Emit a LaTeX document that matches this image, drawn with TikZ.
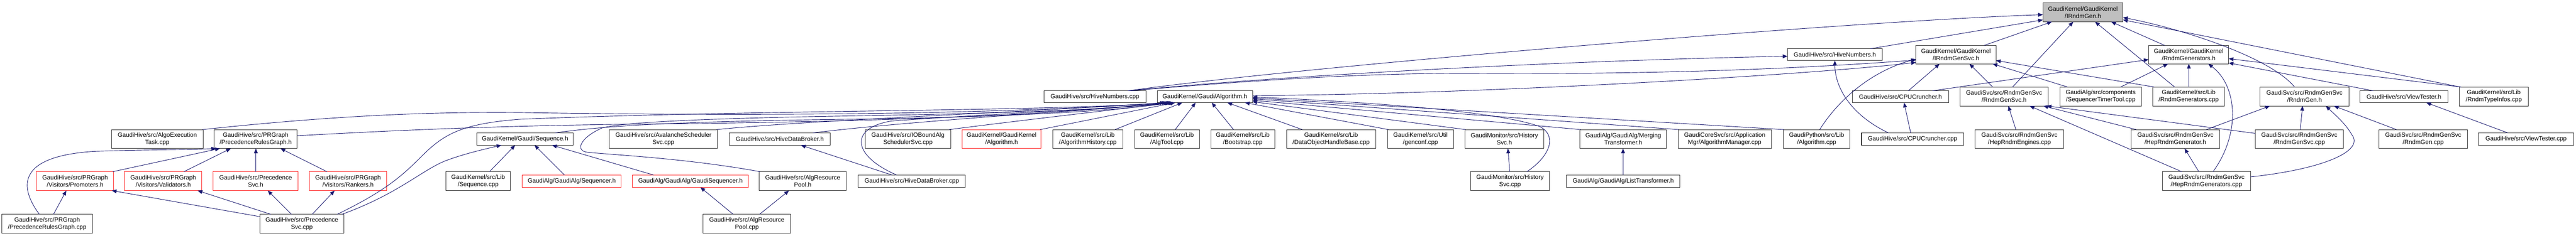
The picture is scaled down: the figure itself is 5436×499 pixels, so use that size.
\documentclass[tikz,border=0pt]{standalone}
\usepackage{fontspec}
\setmainfont{Liberation Sans}
\usetikzlibrary{arrows.meta}
\definecolor{edgeblue}{RGB}{25,25,112}
\definecolor{rootgray}{RGB}{191,191,191}
\newcommand\atB[2]{(#1.south -| #2,0)}
\newcommand\atT[2]{(#1.north -| #2,0)}
\newcommand\atL[2]{(#1.west |- 0,#2)}
\newcommand\atR[2]{(#1.east |- 0,#2)}
\newcommand\gnode[7]{\node[#1, minimum width={(#5)-(#3)}, minimum height={(#6)-(#4)}] (#2) at ({((#3)+(#5))/2},{((#4)+(#6))/2}) {#7};}
\begin{document}
\begin{tikzpicture}[x=1pt,y=-1pt,
  font=\fontsize{12.9}{15}\selectfont,
  box/.style={draw=black!80, line width=1.1pt, fill=white, rectangle, inner sep=0pt, outer sep=0pt, align=center},
  trunc/.style={box, draw=red!85!white},
  root/.style={box, fill=rootgray},
  dep/.style={draw=edgeblue, line width=1pt, -{Triangle[length=10pt,width=8pt]}}]
\fill[white] (0,0) rectangle (5436,499);
\useasboundingbox (0,0) rectangle (5436,499);
% rank 0
\gnode{root}{irg}{4311}{6}{4480}{46}{GaudiKernel/GaudiKernel\\/IRndmGen.h}
% rank 1
\gnode{box}{irgs}{4043}{96}{4212}{135}{GaudiKernel/GaudiKernel\\/IRndmGenSvc.h}
\gnode{box}{rgh}{4534}{96}{4703}{135}{GaudiKernel/GaudiKernel\\/RndmGenerators.h}
\gnode{box}{hnh}{3772}{103}{3972}{128}{GaudiHive/src/HiveNumbers.h}
% rank 2
\gnode{box}{hnc}{2203}{192}{2418}{217}{GaudiHive/src/HiveNumbers.cpp}
\gnode{box}{alg}{2442}{192}{2643}{217}{GaudiKernel/Gaudi/Algorithm.h}
\gnode{box}{cpuh}{3909}{192}{4112}{217}{GaudiHive/src/CPUCruncher.h}
\gnode{box}{rgsh}{4136}{184}{4322}{224}{GaudiSvc/src/RndmGenSvc\\/RndmGenSvc.h}
\gnode{box}{stt}{4347}{184}{4519}{224}{GaudiAlg/src/components\\/SequencerTimerTool.cpp}
\gnode{box}{rgcpp}{4543}{184}{4694}{224}{GaudiKernel/src/Lib\\/RndmGenerators.cpp}
\gnode{box}{rgenh}{4769}{184}{4957}{224}{GaudiSvc/src/RndmGenSvc\\/RndmGen.h}
\gnode{box}{vth}{4980}{192}{5166}{217}{GaudiHive/src/ViewTester.h}
\gnode{box}{rti}{5190}{184}{5335}{224}{GaudiKernel/src/Lib\\/RndmTypeInfos.cpp}
% rank 3
\gnode{box}{aet}{235}{274}{429}{314}{GaudiHive/src/AlgoExecution\\Task.cpp}
\gnode{box}{prgh}{452}{274}{627}{314}{GaudiHive/src/PRGraph\\/PrecedenceRulesGraph.h}
\gnode{box}{seqh}{1006}{281}{1210}{307}{GaudiKernel/Gaudi/Sequence.h}
\gnode{box}{ava}{1286}{274}{1514}{314}{GaudiHive/src/AvalancheScheduler\\Svc.cpp}
\gnode{box}{hdbh}{1539}{281}{1752}{307}{GaudiHive/src/HiveDataBroker.h}
\gnode{box}{iob}{1826}{274}{2006}{314}{GaudiHive/src/IOBoundAlg\\SchedulerSvc.cpp}
\gnode{trunc}{kalg}{2030}{274}{2197}{314}{GaudiKernel/GaudiKernel\\/Algorithm.h}
\gnode{box}{ahist}{2222}{274}{2369}{314}{GaudiKernel/src/Lib\\/AlgorithmHistory.cpp}
\gnode{box}{atool}{2394}{274}{2531}{314}{GaudiKernel/src/Lib\\/AlgTool.cpp}
\gnode{box}{boot}{2555}{274}{2690}{314}{GaudiKernel/src/Lib\\/Bootstrap.cpp}
\gnode{box}{dohb}{2715}{274}{2903}{314}{GaudiKernel/src/Lib\\/DataObjectHandleBase.cpp}
\gnode{box}{genc}{2928}{274}{3067}{314}{GaudiKernel/src/Util\\/genconf.cpp}
\gnode{box}{hsh}{3091}{274}{3258}{314}{GaudiMonitor/src/History\\Svc.h}
\gnode{box}{mtr}{3334}{274}{3517}{314}{GaudiAlg/GaudiAlg/Merging\\Transformer.h}
\gnode{box}{amgr}{3541}{274}{3738}{314}{GaudiCoreSvc/src/Application\\Mgr/AlgorithmManager.cpp}
\gnode{box}{pyalg}{3763}{274}{3904}{314}{GaudiPython/src/Lib\\/Algorithm.cpp}
\gnode{box}{cpuc}{3928}{281}{4144}{307}{GaudiHive/src/CPUCruncher.cpp}
\gnode{box}{hre}{4168}{274}{4355}{314}{GaudiSvc/src/RndmGenSvc\\/HepRndmEngines.cpp}
\gnode{box}{hrg}{4497}{274}{4684}{314}{GaudiSvc/src/RndmGenSvc\\/HepRndmGenerator.h}
\gnode{box}{rgsc}{4759}{274}{4945}{314}{GaudiSvc/src/RndmGenSvc\\/RndmGenSvc.cpp}
\gnode{box}{rgc}{5020}{274}{5207}{314}{GaudiSvc/src/RndmGenSvc\\/RndmGen.cpp}
\gnode{box}{vtc}{5230}{281}{5431}{307}{GaudiHive/src/ViewTester.cpp}
% rank 4
\gnode{trunc}{prom}{77}{363}{240}{403}{GaudiHive/src/PRGraph\\/Visitors/Promoters.h}
\gnode{trunc}{val}{263}{363}{426}{403}{GaudiHive/src/PRGraph\\/Visitors/Validators.h}
\gnode{trunc}{psh}{450}{363}{629}{403}{GaudiHive/src/Precedence\\Svc.h}
\gnode{trunc}{rank}{653}{363}{816}{403}{GaudiHive/src/PRGraph\\/Visitors/Rankers.h}
\gnode{box}{seqc}{941}{363}{1077}{403}{GaudiKernel/src/Lib\\/Sequence.cpp}
\gnode{trunc}{sqr}{1102}{370}{1311}{396}{GaudiAlg/GaudiAlg/Sequencer.h}
\gnode{trunc}{gsqr}{1335}{370}{1579}{396}{GaudiAlg/GaudiAlg/GaudiSequencer.h}
\gnode{box}{arph}{1602}{363}{1786}{403}{GaudiHive/src/AlgResource\\Pool.h}
\gnode{box}{hdbc}{1811}{370}{2037}{396}{GaudiHive/src/HiveDataBroker.cpp}
\gnode{box}{hsc}{3103}{363}{3270}{403}{GaudiMonitor/src/History\\Svc.cpp}
\gnode{box}{ltr}{3306}{370}{3545}{396}{GaudiAlg/GaudiAlg/ListTransformer.h}
\gnode{box}{hrgs}{4563}{363}{4749}{403}{GaudiSvc/src/RndmGenSvc\\/HepRndmGenerators.cpp}
% rank 5
\gnode{box}{prgc}{4}{453}{195}{493}{GaudiHive/src/PRGraph\\/PrecedenceRulesGraph.cpp}
\gnode{box}{psc}{548}{453}{726}{493}{GaudiHive/src/Precedence\\Svc.cpp}
\gnode{box}{arpc}{1484}{453}{1668}{493}{GaudiHive/src/AlgResource\\Pool.cpp}
% ---------- edges: left part
\draw[dep] \atT{prgc}{83} .. controls (40,395) and (35,330) .. (200,320) .. controls (320,316) and (400,317) .. \atB{prgh}{456};
\draw[dep] \atT{prom}{238} -- \atB{prgh}{464};
\draw[dep] \atT{val}{388} -- \atB{prgh}{487};
\draw[dep] \atT{psh}{540} -- \atB{prgh}{540};
\draw[dep] \atT{rank}{690} -- \atB{prgh}{592};
\draw[dep] \atT{prgc}{113} -- \atB{prom}{140};
\draw[dep] \atL{psc}{458} -- \atB{prom}{236};
\draw[dep] \atT{psc}{571} -- \atB{val}{417};
\draw[dep] \atT{psc}{615} -- \atB{psh}{565};
\draw[dep] \atT{psc}{659} -- \atB{rank}{706};
\draw[dep] \atT{psc}{722} .. controls (840,410) and (890,360) .. (940,340) .. controls (980,325) and (1020,316) .. \atB{seqh}{1058};
\draw[dep] \atT{psc}{712} .. controls (800,410) and (840,380) .. (880,340) .. controls (930,290) and (960,262) .. (1100,252) .. controls (1600,232) and (2200,236) .. \atB{alg}{2462};
\draw[dep] \atT{aet}{427} .. controls (700,245) and (900,236) .. (1100,238) .. controls (1600,246) and (2100,242) .. \atB{alg}{2458};
\draw[dep] \atR{prgh}{287} .. controls (900,272) and (1100,265) .. (1380,262) .. controls (1800,258) and (2200,246) .. \atB{alg}{2465};
\draw[dep] \atT{seqh}{1172} .. controls (1300,262) and (1500,256) .. (1800,252) .. controls (2100,248) and (2350,236) .. \atB{alg}{2468};
\draw[dep] \atT{arph}{1604} .. controls (1450,335) and (1300,328) .. (1240,322) .. controls (1212,319) and (1225,290) .. (1272,270) .. controls (1320,258) and (1500,250) .. (1800,245) .. controls (2100,240) and (2350,232) .. \atB{alg}{2470};
\draw[dep] \atT{ava}{1512} .. controls (1700,255) and (2100,240) .. \atB{alg}{2472};
\draw[dep] \atT{hdbh}{1716} .. controls (1900,258) and (2200,240) .. \atB{alg}{2474};
\draw[dep] \atT{hdbc}{1892} .. controls (1800,330) and (1790,272) .. (1880,256) .. controls (2100,240) and (2350,230) .. \atB{alg}{2476};
\draw[dep] \atT{iob}{2003} .. controls (2150,255) and (2350,232) .. \atB{alg}{2478};
\draw[dep] \atT{kalg}{2195} -- \atB{alg}{2480};
\draw[dep] \atT{ahist}{2353} -- \atB{alg}{2495};
\draw[dep] \atT{atool}{2480} -- \atB{alg}{2523};
\draw[dep] \atT{boot}{2603} -- \atB{alg}{2557};
\draw[dep] \atT{dohb}{2748} -- \atB{alg}{2590};
\draw[dep] \atT{genc}{2930} -- \atB{alg}{2627};
\draw[dep] \atT{hsh}{3093} -- \atR{alg}{215};
\draw[dep] \atT{mtr}{3336} -- \atR{alg}{212};
\draw[dep] \atT{amgr}{3543} -- \atR{alg}{209};
\draw[dep] \atT{pyalg}{3765} -- \atR{alg}{207};
\draw[dep] \atT{hsc}{3222} .. controls (3265,335) and (3290,290) .. (3250,268) .. controls (3150,230) and (2800,212) .. \atR{alg}{205};
\draw[dep] \atT{hsc}{3186} -- \atB{hsh}{3182};
\draw[dep] \atT{ltr}{3425} -- \atB{mtr}{3425};
\draw[dep] \atT{seqc}{1033} -- \atB{seqh}{1087};
\draw[dep] \atT{sqr}{1191} -- \atB{seqh}{1128};
\draw[dep] \atT{gsqr}{1379} -- \atB{seqh}{1165};
\draw[dep] \atT{arpc}{1547} -- \atB{gsqr}{1478};
\draw[dep] \atT{arpc}{1603} -- \atB{arph}{1665};
\draw[dep] \atT{hdbc}{1882} -- \atB{hdbh}{1690};
% ---------- edges: right part
\draw[dep] \atR{alg}{202} .. controls (3100,200) and (3800,160) .. \atL{irgs}{132};
\draw[dep] \atT{hnc}{2380} .. controls (2750,140) and (3900,45) .. \atL{irg}{31};
\draw[dep] \atT{hnc}{2382} .. controls (2700,160) and (3300,128) .. \atL{hnh}{119};
\draw[dep] \atT{hnc}{2384} .. controls (2700,165) and (2900,155) .. (3100,155) .. controls (3500,158) and (3800,145) .. \atL{irgs}{127};
\draw[dep] \atT{pyalg}{3840} .. controls (3880,210) and (3950,150) .. \atL{irgs}{125};
\draw[dep] \atT{hnh}{3947} -- \atL{irg}{42};
\draw[dep] \atT{cpuc}{3985} .. controls (3900,240) and (3872,180) .. \atB{hnh}{3872};
\draw[dep] \atT{cpuc}{4032} -- \atB{cpuh}{4018};
\draw[dep] \atT{cpuh}{4027} -- \atB{irgs}{4093};
\draw[dep] \atT{cpuh}{4078} -- \atL{rgh}{126};
\draw[dep] \atT{irgs}{4187} -- \atB{irg}{4330};
\draw[dep] \atT{rgsh}{4247} -- \atB{irg}{4375};
\draw[dep] \atT{rgsh}{4205} -- \atB{irgs}{4156};
\draw[dep] \atT{stt}{4363} -- \atB{irgs}{4205};
\draw[dep] \atT{stt}{4475} -- \atB{rgh}{4575};
\draw[dep] \atT{rgcpp}{4589} -- \atB{irg}{4421};
\draw[dep] \atT{rgcpp}{4546} -- \atR{irgs}{128};
\draw[dep] \atT{rgcpp}{4619} -- \atB{rgh}{4619};
\draw[dep] \atT{rgh}{4568} -- \atB{irg}{4455};
\draw[dep] \atT{hrgs}{4670} .. controls (4730,280) and (4720,180) .. \atB{rgh}{4660};
\draw[dep] \atT{rgenh}{4842} .. controls (4790,120) and (4600,60) .. \atR{irg}{37};
\draw[dep] \atT{rti}{5192} -- \atR{irg}{42};
\draw[dep] \atT{rti}{5194} -- \atR{rgh}{124};
\draw[dep] \atT{vth}{5008} -- \atR{rgh}{133};
\draw[dep] \atT{hre}{4254} -- \atB{rgsh}{4238};
\draw[dep] \atT{hrgs}{4604} -- \atB{rgsh}{4283};
\draw[dep] \atT{hrg}{4508} -- \atB{rgsh}{4312};
\draw[dep] \atL{rgsc}{282} -- \atB{rgsh}{4319};
\draw[dep] \atT{hrgs}{4640} -- \atB{hrg}{4610};
\draw[dep] \atT{hrg}{4656} -- \atB{rgenh}{4790};
\draw[dep] \atR{hrgs}{374} .. controls (4900,358) and (4990,320) .. (4963,285) .. controls (4950,262) and (4930,245) .. \atB{rgenh}{4908};
\draw[dep] \atT{rgsc}{4854} -- \atB{rgenh}{4859};
\draw[dep] \atT{rgc}{5057} -- \atB{rgenh}{4925};
\draw[dep] \atT{vtc}{5292} -- \atB{vth}{5120};
\end{tikzpicture}
\end{document}
